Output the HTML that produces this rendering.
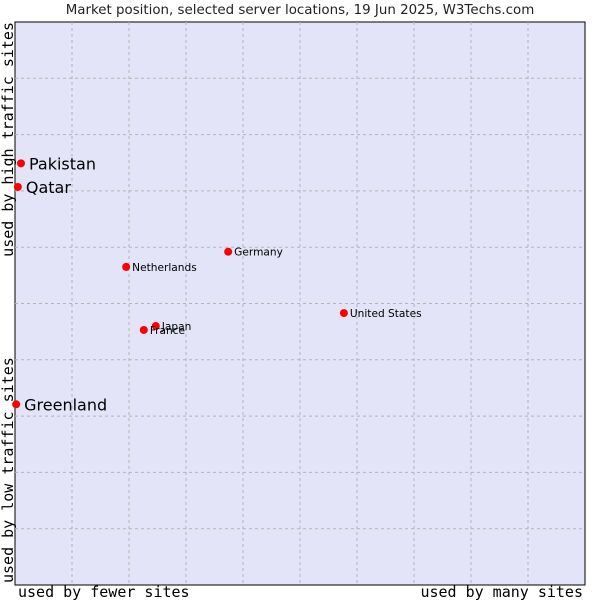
<!DOCTYPE html>
<html><head><meta charset="utf-8"><style>
body{margin:0;background:#fff;}
svg text{font-family:"DejaVu Sans","Liberation Sans",sans-serif;}
.mono{font-family:"DejaVu Sans Mono","Liberation Mono",monospace !important;}
</style></head><body>
<svg id="chart" width="600" height="600" xmlns="http://www.w3.org/2000/svg">
<text x="300" y="14" text-anchor="middle" font-size="13.4" fill="#222">Market position, selected server locations, 19 Jun 2025, W3Techs.com</text>
<rect x="15" y="22" width="570" height="563" fill="#e4e4f8" stroke="#000" stroke-width="1"/>
<g id="grid"></g>
<g id="points"></g>
<text class="mono" x="18" y="597" font-size="15" fill="#000">used by fewer sites</text>
<text class="mono" x="583" y="597" font-size="15" fill="#000" text-anchor="end">used by many sites</text>
<text class="mono" transform="translate(13,22) rotate(-90)" font-size="15" fill="#000" text-anchor="end">used by high traffic sites</text>
<text class="mono" transform="translate(13,583) rotate(-90)" font-size="15" fill="#000">used by low traffic sites</text>
</svg>
<script>
const names=["Pakistan","Qatar","Greenland","Netherlands","Germany","United States","Japan","France"];
const xVals=[1.05,0.5,0.2,19.5,37.4,57.7,24.7,22.6];
const yVals=[74.9,70.7,32.1,56.5,59.2,48.3,46.0,45.3];
const bigLabel=[true,true,true,false,false,false,false,false];
const gridTicks=[10,20,30,40,50,60,70,80,90];
const X0=15,X1=585,Y0=585,Y1=22;
const sx=v=>X0+(X1-X0)*v/100, sy=v=>Y0-(Y0-Y1)*v/100;
const NS="http://www.w3.org/2000/svg";
const grid=document.getElementById('grid'), pts=document.getElementById('points');
gridTicks.forEach(t=>{
  let l=document.createElementNS(NS,'line');
  l.setAttribute('x1',sx(t));l.setAttribute('x2',sx(t));l.setAttribute('y1',Y1);l.setAttribute('y2',Y0);
  l.setAttribute('stroke','#b4b4b4');l.setAttribute('stroke-dasharray','3,3');
  
  
  grid.appendChild(l);
  let h=document.createElementNS(NS,'line');
  h.setAttribute('x1',X0);h.setAttribute('x2',X1);h.setAttribute('y1',sy(t));h.setAttribute('y2',sy(t));
  h.setAttribute('stroke','#b4b4b4');h.setAttribute('stroke-dasharray','3,3');
  
  
  grid.appendChild(h);
});
names.forEach((n,i)=>{
  const x=sx(xVals[i]),y=sy(yVals[i]);
  let c=document.createElementNS(NS,'circle');
  c.setAttribute('cx',x);c.setAttribute('cy',y);c.setAttribute('r',4);c.setAttribute('fill','#f00');
  
  
  pts.appendChild(c);
  let t=document.createElementNS(NS,'text');
  t.setAttribute('x',x+(bigLabel[i]?8:6));t.setAttribute('y',y+(bigLabel[i]?6:4));
  t.setAttribute('font-size',bigLabel[i]?16:10.6);t.setAttribute('fill','#000');
  t.textContent=n;
  
  
  pts.appendChild(t);
});
</script>
</body></html>
